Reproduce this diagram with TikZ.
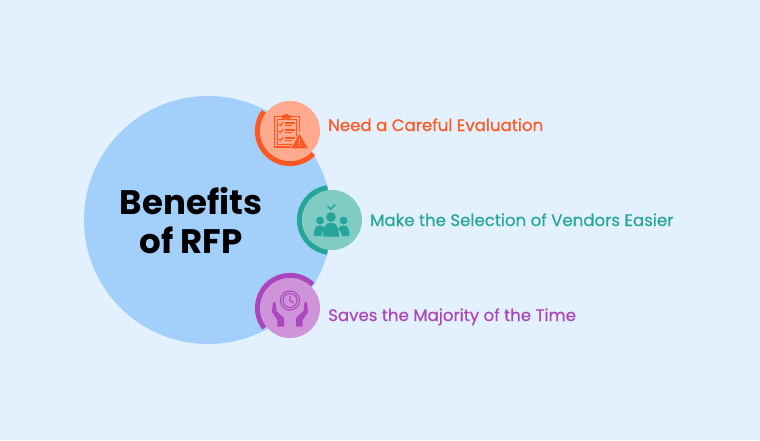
\documentclass[tikz,border=0pt]{standalone}
\usepackage{fontspec}
\setmainfont{Poppins}
\newfontfamily\labelfont{Poppins}[FakeBold=0.45]
\definecolor{bgc}{HTML}{E3F1FE}
\definecolor{bigc}{HTML}{A3D0FA}
\definecolor{orangeD}{HTML}{FF5722}
\definecolor{orangeL}{HTML}{FFA98F}
\definecolor{tealD}{HTML}{26A69A}
\definecolor{tealL}{HTML}{80CBC4}
\definecolor{purpD}{HTML}{AB47BC}
\definecolor{purpL}{HTML}{CE93D8}
\tikzset{
  x=1pt,y=-1pt,
  disc/.style={circle,minimum size=60pt,inner sep=0pt,fill=#1},
  ring/.style={draw=#1,line width=5.2pt},
  itemlabel/.style={anchor=base west,inner sep=0pt,text=#1,font=\labelfont\fontsize{16.6pt}{18pt}\selectfont},
}
\begin{document}
\begin{tikzpicture}
\useasboundingbox[fill=bgc] (0,0) rectangle (760,440);
\node[circle,fill=bigc,minimum size=248pt,inner sep=0pt] (main) at (208,220) {};
\node[inner sep=0pt,align=center,font=\bfseries\fontsize{34pt}{39.5pt}\selectfont] (title) at (191,220.5) {Benefits\\of RFP};
% item 1
\coordinate (c1) at (290,131);
\draw[ring=orangeD] (c1) ++(143:32.5pt) arc[start angle=143,end angle=316,radius=32.5pt];
\node[disc=orangeL] (d1) at (c1) {};
\node[itemlabel=orangeD] (t1) at (328,131) {Need a Careful Evaluation};
% clipboard
\draw[orangeD,line width=1.6pt] (274.5,116.5) rectangle (299.5,147);
\draw[orangeD,line width=1pt] (277.5,119.5) rectangle (296.5,144);
\fill[orangeD] (282,116.5) -- (282,115) -- (285,115) -- (285,113.8) -- (287.5,113.8) -- (287.5,115) -- (290.5,115) -- (290.5,118.5) -- (282,118.5) -- cycle;
\foreach \yy in {124,131,139}{
  \draw[orangeD,line width=1.2pt] (279,\yy) -- (280.5,\yy+1.5) -- (283,\yy-1.5);
  \draw[orangeD,line width=1.1pt] (285,\yy-1) -- (295,\yy-1) (285,\yy+1.5) -- (292,\yy+1.5);
}
\fill[orangeL] (299.5,131.5) -- (309.5,149.5) -- (289.5,149.5) -- cycle;
\fill[orangeD,line join=round,draw=orangeD,line width=1.2pt] (299.5,135) -- (306.8,147.8) -- (292.2,147.8) -- cycle;
\fill[orangeL] (298.7,138.5) rectangle (300.3,143.5);
\fill[orangeL] (299.5,145.4) circle[radius=1];
% item 2
\coordinate (c2) at (332,220);
\draw[ring=tealD] (c2) ++(98:32.5pt) arc[start angle=98,end angle=262,radius=32.5pt];
\node[disc=tealL] (d2) at (c2) {};
\node[itemlabel=tealD] (t2) at (370,226) {Make the Selection of Vendors Easier};
% people
\draw[tealD,line width=1.5pt] (327.5,206.3) -- (330.8,209) -- (335,204.7);
\fill[tealD] (320,220.5) circle[radius=4];
\fill[tealD] (343.5,220.5) circle[radius=4];
\fill[tealD] (314,236) .. controls (314,228) and (316,225.5) .. (320,225.5) .. controls (323,225.5) and (325,227) .. (325,229) .. controls (322.5,231) and (322,233) .. (321.5,236) -- cycle;
\fill[tealD] (349.5,236) .. controls (349.5,228) and (347.5,225.5) .. (343.5,225.5) .. controls (340.5,225.5) and (338.5,227) .. (338.5,229) .. controls (341,231) and (341.5,233) .. (342,236) -- cycle;
\fill[tealD] (331,217) circle[radius=4.8];
\fill[tealD] (323,236.5) .. controls (323,227) and (326,222.7) .. (331,222.7) .. controls (336,222.7) and (339,227) .. (339,236.5) -- cycle;
% item 3
\coordinate (c3) at (290,308);
\draw[ring=purpD] (c3) ++(46:32.5pt) arc[start angle=46,end angle=218,radius=32.5pt];
\node[disc=purpL] (d3) at (c3) {};
\node[itemlabel=purpD] (t3) at (328,321) {Saves the Majority of the Time};
% clock
\draw[purpD,line width=1.1pt] (290,300.5) circle[radius=9.5];
\draw[purpD,line width=1pt] (290,300.5) circle[radius=7];
\draw[purpD,line width=1.2pt] (290,295.5) -- (290,300.5) -- (293.5,303);
% hands
\foreach \sgn in {1,-1}{
  \fill[purpD,line join=round] (290+\sgn*-17,302.3) -- (290+\sgn*-14.5,302.3) -- (290+\sgn*-13.5,311) -- (290+\sgn*-6,318) -- (290+\sgn*-6,326.7) -- (290+\sgn*-12.7,326.7) -- (290+\sgn*-12.7,320) -- (290+\sgn*-18,312) -- cycle;
}
\end{tikzpicture}
\end{document}
